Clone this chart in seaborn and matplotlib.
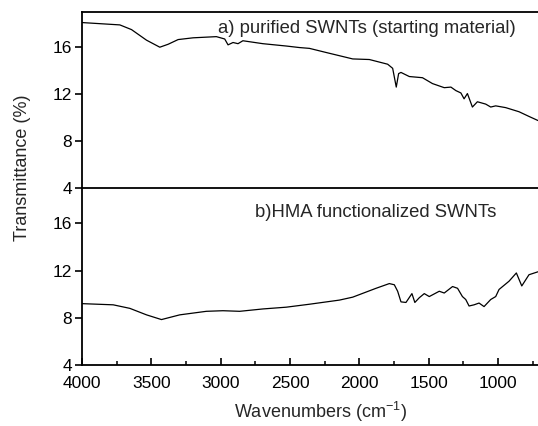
import numpy as np
import pandas as pd
import matplotlib
matplotlib.use("Agg")
import matplotlib.pyplot as plt
import seaborn as sns
from matplotlib.ticker import MultipleLocator

# --- data ---
wn_a = [4000, 3727, 3643, 3535, 3439, 3379, 3307, 3199, 3031, 2971, 2947, 2911, 2875,
        2840, 2696, 2527, 2432, 2360, 2240, 2048, 1928, 1796, 1760, 1734, 1717, 1700,
        1640, 1545, 1473, 1388, 1340, 1304, 1268, 1245, 1221, 1185, 1149, 1089, 1053,
        1017, 945, 849, 777, 712]
tr_a = [18.1, 17.9, 17.5, 16.6, 16.0, 16.25, 16.65, 16.8, 16.9, 16.7, 16.2, 16.4, 16.3,
        16.55, 16.3, 16.1, 15.97, 15.9, 15.55, 15.0, 14.95, 14.55, 14.2, 12.6, 13.75, 13.85,
        13.5, 13.4, 12.9, 12.55, 12.6, 12.3, 12.1, 11.6, 12.05, 10.9, 11.35, 11.15, 10.9,
        11.0, 10.85, 10.5, 10.1, 9.75]

wn_b = [4000, 3775, 3655, 3535, 3427, 3295, 3103, 2984, 2863, 2696, 2527, 2360, 2144,
        2048, 1880, 1784, 1748, 1724, 1700, 1664, 1621, 1600, 1568, 1532, 1496, 1448,
        1424, 1388, 1328, 1292, 1257, 1233, 1209, 1173, 1137, 1101, 1053, 1017, 993,
        921, 868, 829, 777, 712]
tr_b = [9.2, 9.1, 8.8, 8.25, 7.85, 8.25, 8.55, 8.6, 8.55, 8.75, 8.9, 9.15, 9.5,
        9.75, 10.5, 10.9, 10.8, 10.25, 9.35, 9.3, 10.05, 9.3, 9.7, 10.05, 9.8, 10.1,
        10.25, 10.1, 10.65, 10.5, 9.8, 9.55, 9.0, 9.1, 9.25, 8.95, 9.55, 9.8, 10.4,
        11.1, 11.8, 10.7, 11.65, 11.9]

label_a = "a) purified SWNTs (starting material)"
label_b = "b)HMA functionalized SWNTs"
y_ticks = [4, 8, 12, 16]
x_ticks = [4000, 3500, 3000, 2500, 2000, 1500, 1000]

df_a = pd.DataFrame({"wn": wn_a, "tr": tr_a})
df_b = pd.DataFrame({"wn": wn_b, "tr": tr_b})

sns.set_style("ticks")
plt.rcParams['font.family'] = ['Liberation Sans', 'DejaVu Sans']
plt.rcParams['mathtext.fontset'] = 'custom'
plt.rcParams['mathtext.rm'] = 'Liberation Sans'

fig = plt.figure(figsize=(5.38, 4.26), dpi=100)
L, R = 82 / 538, 1.0
y_top, y_mid, y_bot = 1 - 12 / 426, 1 - 188 / 426, 1 - 365 / 426
ax1 = fig.add_axes([L, y_mid, R - L, y_top - y_mid])
ax2 = fig.add_axes([L, y_bot, R - L, y_mid - y_bot], sharex=ax1)
ax2.patch.set_alpha(0)

sns.lineplot(data=df_a, x="wn", y="tr", ax=ax1, color="black", lw=0.9, sort=False)
sns.lineplot(data=df_b, x="wn", y="tr", ax=ax2, color="black", lw=0.9, sort=False)

for ax in (ax1, ax2):
    ax.set_xlim(4000, 712)
    ax.set_ylim(4, 19)
    ax.set_yticks(y_ticks)
    ax.set_xlabel("")
    ax.set_ylabel("")
    ax.spines['right'].set_visible(False)
    for s in ('left', 'top', 'bottom'):
        ax.spines[s].set_linewidth(1.3)
        ax.spines[s].set_color('black')
    ax.tick_params(axis='y', direction='out', length=5, width=1.2, labelsize=12.5, pad=2,
                   colors='black')

ax1.tick_params(axis='x', which='both', bottom=False, labelbottom=False)
ax2.spines['top'].set_visible(False)
ax2.set_xticks(x_ticks)
ax2.xaxis.set_minor_locator(MultipleLocator(250))
ax2.tick_params(axis='x', which='major', direction='in', length=5, width=1.2, labelsize=12.5,
                pad=8, colors='black')
ax2.tick_params(axis='x', which='minor', direction='in', length=3, width=1.1, colors='black')

ax1.text(0.952, 0.909, label_a, transform=ax1.transAxes, ha='right', va='center', fontsize=13.3)
ax2.text(0.379, 0.859, label_b, transform=ax2.transAxes, ha='left', va='center', fontsize=13.3)

fig.text(320 / 538, 1 - 412 / 426, "Wavenumbers (cm$^{-1}$)", ha='center', va='center',
         fontsize=13)
fig.text(23 / 538, 1 - 168 / 426, "Transmittance (%)", ha='center', va='center',
         rotation=90, fontsize=13)

fig.savefig("out.png", dpi=100)
